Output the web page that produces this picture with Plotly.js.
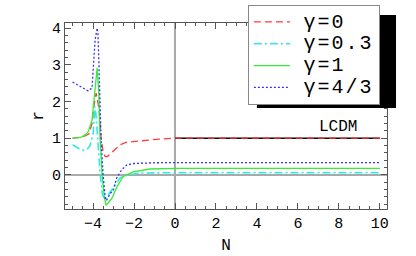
<!DOCTYPE html>
<html><head><meta charset="utf-8">
<script src="https://cdn.plot.ly/plotly-3.0.1.min.js"></script>
<style>html,body{margin:0;padding:0;background:#fff;}#chart{width:416px;height:256px;}</style>
</head><body><div id="chart"></div>
<script>
// gamma = 0
const nRed = [-5, -4.5, -4.2, -4.05, -3.95, -3.85, -3.71, -3.6, -3.5, -3.4, -3.3, -3.05, -2.68, -2.36, -1.71, -0.9, 0, 10];
const rRed = [1.0, 1.03, 1.12, 1.4, 1.9, 2.23, 1.8, 0.95, 0.6, 0.5, 0.5, 0.64, 0.82, 0.89, 0.93, 0.97, 1.0, 1.0];
// gamma = 0.3
const nCyan = [-5, -4.7, -4.45, -4.25, -4.15, -4.0, -3.95, -3.9, -3.85, -3.75, -3.65, -3.55, -3.45, -3.35, -3.1, -2.93, -2.68, -2.3, -1.7, 0, 10];
const rCyan = [0.82, 0.72, 0.67, 0.72, 0.8, 1.1, 1.5, 1.86, 1.6, 0.8, 0.0, -0.5, -0.68, -0.62, -0.42, -0.27, -0.08, 0.0, 0.05, 0.06, 0.06];
// gamma = 1
const nGreen = [-5, -4.6, -4.39, -4.24, -4.05, -3.95, -3.8, -3.72, -3.66, -3.56, -3.45, -3.37, -3.28, -3.07, -2.83, -2.54, -2.05, -1.22, -0.5, 0, 10];
const rGreen = [1.0, 1.02, 1.09, 1.17, 1.5, 2.1, 2.92, 2.2, 1.0, 0.0, -0.6, -0.82, -0.78, -0.63, -0.32, -0.05, 0.08, 0.16, 0.175, 0.18, 0.18];
// gamma = 4/3
const nBlue = [-5, -4.63, -4.39, -4.24, -4.05, -4.0, -3.9, -3.8, -3.76, -3.71, -3.61, -3.51, -3.45, -3.4, -3.35, -3.28, -3.15, -3.01, -2.85, -2.6, -2.36, -2.0, -1.5, -1.0, 0, 10];
const rBlue = [2.53, 2.42, 2.34, 2.29, 2.37, 2.94, 3.68, 4.0, 3.85, 2.94, 1.0, 0.0, -0.45, -0.66, -0.7, -0.62, -0.5, -0.41, -0.09, 0.14, 0.27, 0.31, 0.33, 0.33, 0.335, 0.335];
// LCDM reference
const nLCDM = [0, 10];
const rLCDM = [1, 1];

const seriesNames = ['γ=0', 'γ=0.3', 'γ=1', 'γ=4/3'];
const mono = 'Liberation Mono, Courier New, monospace';
const legendLabel = s => '\u00a0<span style="font-size:20px;letter-spacing:2px">' + s + '</span>';

const data = [
  {x: nLCDM, y: rLCDM, mode: 'lines', line: {color: '#000', width: 1.4}, showlegend: false, hoverinfo: 'skip'},
  {x: nRed, y: rRed, name: legendLabel(seriesNames[0]), mode: 'lines', line: {color: '#ff3b3b', width: 1.3, dash: '7px,4px'}},
  {x: nCyan, y: rCyan, name: legendLabel(seriesNames[1]), mode: 'lines', line: {color: '#30e8f0', width: 1.6, dash: '8px,3px,2px,3px'}},
  {x: nGreen, y: rGreen, name: legendLabel(seriesNames[2]), mode: 'lines', line: {color: '#33ee33', width: 1.3}},
  {x: nBlue, y: rBlue, name: legendLabel(seriesNames[3]), mode: 'lines', line: {color: '#3333ff', width: 1.3, dash: '2px,2px'}}
];

const axisCommon = {
  showgrid: false, showline: true, linecolor: '#555', linewidth: 1,
  mirror: 'ticks', ticks: 'inside', ticklen: 6, tickcolor: '#555', tickwidth: 1,
  zeroline: true, zerolinecolor: '#aaa', zerolinewidth: 2,
  tickfont: {family: mono, size: 15, color: '#000'},
  fixedrange: true
};

const layout = {
  width: 416, height: 256,
  margin: {l: 65, r: 29, t: 23, b: 47, autoexpand: false},
  paper_bgcolor: '#fff', plot_bgcolor: '#fff',
  xaxis: Object.assign({}, axisCommon, {
    range: [-5.37, 10.35], tickmode: 'linear', tick0: -4, dtick: 2,
    minor: {ticks: 'inside', ticklen: 3, tickcolor: '#555', dtick: 0.5, tick0: 0, showgrid: false},
    title: {text: 'N', font: {family: mono, size: 16, color: '#000'}, standoff: 6}
  }),
  yaxis: Object.assign({}, axisCommon, {
    range: [-0.93, 4.14], tickmode: 'linear', tick0: 0, dtick: 1,
    minor: {ticks: 'inside', ticklen: 3, tickcolor: '#555', dtick: 0.2, tick0: 0, showgrid: false},
    title: {text: 'r', font: {family: mono, size: 16, color: '#000'}, standoff: 4}
  }),
  showlegend: true,
  legend: {
    x: 0.568, y: 1.097, xanchor: 'left', yanchor: 'top',
    bgcolor: '#fff', bordercolor: '#888', borderwidth: 1,
    font: {family: mono, size: 14.5, color: '#000'},
    itemwidth: 36, tracegroupgap: 0
  },
  shapes: [
    {type: 'rect', xref: 'paper', yref: 'paper', x0: 0.596, x1: 1.028, y0: 0.543, y1: 1.043,
     fillcolor: '#000', line: {width: 0}, layer: 'above'}
  ],
  annotations: [
    {x: 7.95, y: 1.31, xref: 'x', yref: 'y', text: 'LCDM', showarrow: false,
     font: {family: mono, size: 16, color: '#000'}}
  ]
};

Plotly.newPlot('chart', data, layout, {displayModeBar: false, staticPlot: true});
</script></body></html>
